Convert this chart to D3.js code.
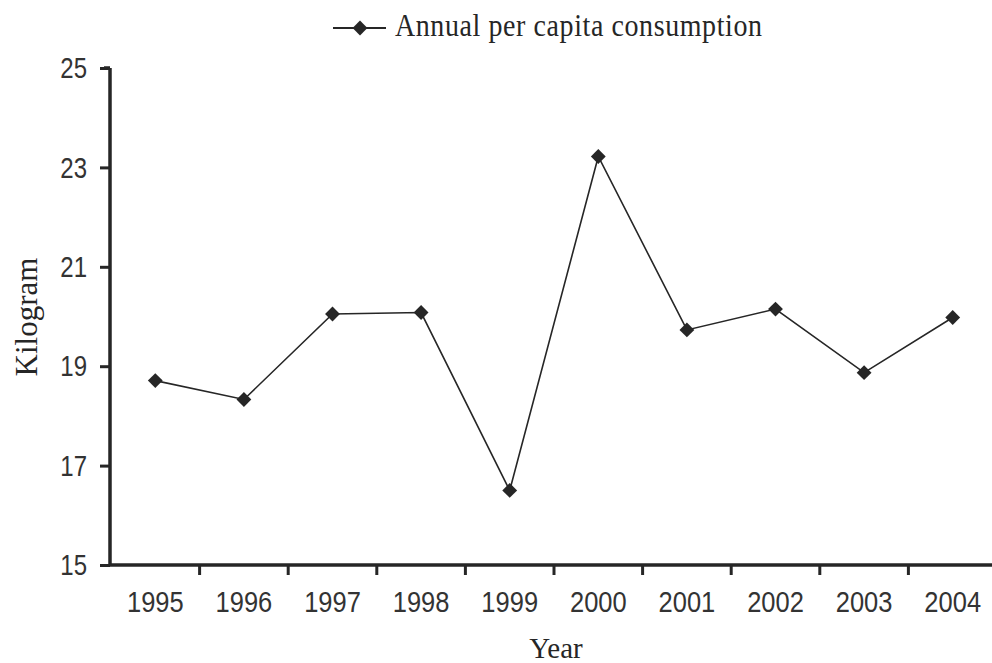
<!DOCTYPE html>
<html><head><meta charset="utf-8">
<script src="https://cdn.jsdelivr.net/npm/d3@7/dist/d3.min.js"></script>
<style>body{margin:0;background:#fff}svg{display:block}</style>
</head><body>
<svg id="c" width="992" height="663"></svg>
<script>
const years = ["1995","1996","1997","1998","1999","2000","2001","2002","2003","2004"];
const consumption = [18.71, 18.33, 20.05, 20.08, 16.5, 23.22, 19.73, 20.15, 18.87, 19.98];
const yTicks = [15, 17, 19, 21, 23, 25];
const seriesName = "Annual per capita consumption";

const svg = d3.select("#c");
const ink = "#262626";
const sans = "'Liberation Sans', Arial, Helvetica, sans-serif";
const serif = "'Liberation Serif', 'Times New Roman', serif";
const x = d3.scaleBand().domain(years).range([111, 997]);
const y = d3.scaleLinear().domain([15, 25]).range([565, 68]);

// Y axis
const ya = svg.append("g").attr("transform", "translate(110,0)")
  .call(d3.axisLeft(y).tickValues(yTicks).tickSize(10).tickPadding(13).tickFormat(d3.format("d")));
ya.select(".domain").attr("stroke", ink).attr("stroke-width", 3.5).attr("d", `M0,${y(25)}H-6M0,${y(25)}V${y(15)}`);
ya.selectAll(".tick line").attr("stroke", ink).attr("stroke-width", 3);
ya.selectAll(".tick text").attr("fill", "#333").style("font-family", sans)
  .style("font-size", "24px").attr("dy", null).attr("y", 0)
  .attr("transform", "scale(1,1.2)").attr("dominant-baseline", "central");

// X axis
const xa = svg.append("g").attr("transform", `translate(0,${y(15)})`)
  .call(d3.axisBottom(x).tickSize(0).tickPadding(0));
xa.select(".domain").attr("stroke", ink).attr("stroke-width", 3.5).attr("d", `M110,0H997`);
xa.selectAll(".tick text").attr("fill", "#333").style("font-family", sans)
  .style("font-size", "25.5px").attr("dy", null).attr("y", 37 / 1.15)
  .attr("transform", "scale(1,1.15)").attr("dominant-baseline", "central");
xa.selectAll(".bt").data(years.slice(0, -1)).enter().append("line")
  .attr("x1", d => x(d) + x.bandwidth()).attr("x2", d => x(d) + x.bandwidth())
  .attr("y1", 0).attr("y2", 10).attr("stroke", ink).attr("stroke-width", 3);

// line
const pts = years.map((d, i) => [x(d) + x.bandwidth() / 2, y(consumption[i])]);
svg.append("path").attr("d", d3.line()(pts)).attr("fill", "none").attr("stroke", ink).attr("stroke-width", 1.6);
const diamond = d3.symbol().type(d3.symbolDiamond2).size(140);
svg.selectAll(".m").data(pts).enter().append("path")
  .attr("d", diamond).attr("transform", d => `translate(${d[0]},${d[1]})`).attr("fill", ink);

// legend
svg.append("line").attr("x1", 333).attr("x2", 386).attr("y1", 28).attr("y2", 28).attr("stroke", ink).attr("stroke-width", 2);
svg.append("path").attr("d", diamond).attr("transform", "translate(360,28)").attr("fill", ink);
svg.append("text").text(seriesName).attr("x", 395).attr("y", 36 / 1.12)
  .attr("transform", "scale(1,1.12)").attr("fill", ink).attr("textLength", 367)
  .style("font-family", serif).style("font-size", "28px");

// axis titles
svg.append("text").text("Year").attr("x", 556).attr("y", 658).attr("text-anchor", "middle").attr("fill", ink)
  .style("font-family", serif).style("font-size", "29px");
svg.append("text").text("Kilogram").attr("transform", "translate(37,317) rotate(-90)").attr("text-anchor", "middle").attr("fill", ink)
  .style("font-family", serif).style("font-size", "31px");
</script>
</body></html>
